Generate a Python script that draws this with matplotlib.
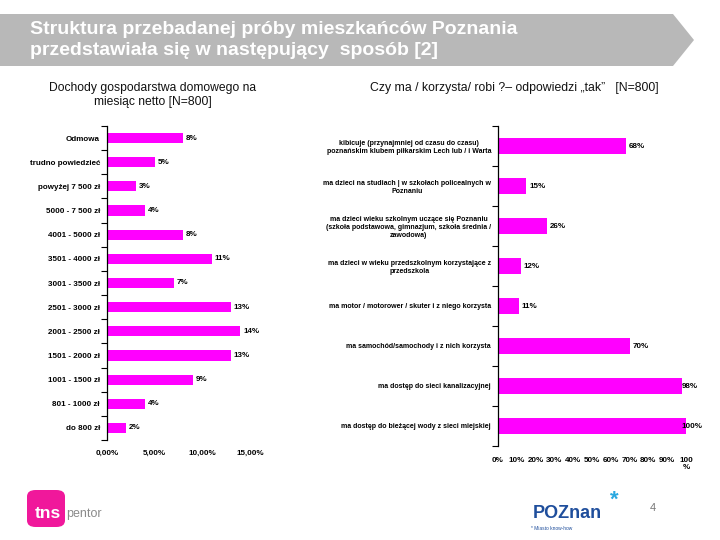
import matplotlib
matplotlib.use("Agg")
import matplotlib.pyplot as plt
from matplotlib.patches import Polygon, FancyBboxPatch

plt.rcParams['font.family'] = ['Liberation Sans', 'DejaVu Sans']

# ---- data ----
income_labels = ["Odmowa", "trudno powiedzieć", "powyżej 7 500 zł", "5000 - 7 500 zł",
                 "4001 - 5000 zł", "3501 - 4000 zł", "3001 - 3500 zł", "2501 - 3000 zł",
                 "2001 - 2500 zł", "1501 - 2000 zł", "1001 - 1500 zł", "801 - 1000 zł",
                 "do 800 zł"]
income_values = [8, 5, 3, 4, 8, 11, 7, 13, 14, 13, 9, 4, 2]
income_xticks = [0, 5, 10, 15]
income_xticklabels = ["0,00%", "5,00%", "10,00%", "15,00%"]

yes_labels = ["kibicuje (przynajmniej od czasu do czasu)\npoznańskim klubem piłkarskim Lech lub / i Warta",
              "ma dzieci na studiach | w szkołach policealnych w\nPoznaniu",
              "ma dzieci wieku szkolnym uczące się Poznaniu\n(szkoła podstawowa, gimnazjum, szkoła średnia /\nzawodowa)",
              "ma dzieci w wieku przedszkolnym korzystające z\nprzedszkola",
              "ma motor / motorower / skuter i z niego korzysta",
              "ma samochód/samochody i z nich korzysta",
              "ma dostęp do sieci kanalizacyjnej",
              "ma dostęp do bieżącej wody z sieci miejskiej"]
yes_values = [68, 15, 26, 12, 11, 70, 98, 100]
yes_xticks = list(range(0, 101, 10))
yes_xticklabels = ["0%", "10%", "20%", "30%", "40%", "50%", "60%", "70%", "80%", "90%", "100\n%"]

title = "Struktura przebadanej próby mieszkańców Poznania\nprzedstawiała się w następujący  sposób [2]"
sub_left = "Dochody gospodarstwa domowego na\nmiesiąc netto [N=800]"
sub_right = "Czy ma / korzysta/ robi ?– odpowiedzi „tak”   [N=800]"

MAG = "#ff00ff"
W, H = 720, 540
fig = plt.figure(figsize=(7.2, 5.4), dpi=100)

def fx(x): return x / W
def fy(y): return 1 - y / H

# banner
banner = Polygon([(fx(0), fy(14)), (fx(673), fy(14)), (fx(694), fy(40)),
                  (fx(673), fy(66)), (fx(0), fy(66))], closed=True,
                 transform=fig.transFigure, facecolor="#b8b8b8", edgecolor="none")
fig.patches.append(banner)
fig.text(fx(30), fy(40), title, color="white", fontsize=14, fontweight="bold",
         ha="left", va="center", linespacing=1.25)

fig.text(fx(153), fy(95), sub_left, fontsize=8.7, ha="center", va="center",
         linespacing=1.3, color="#111111")
fig.text(fx(370), fy(88), sub_right, fontsize=8.8, ha="left", va="center", color="#111111")

# left chart
axL = fig.add_axes([fx(107), fy(440), (250 - 107) / W, (440 - 126) / H])
n = len(income_values)
pos = list(range(n))
axL.barh(pos, income_values, height=0.42, color=MAG)
axL.set_ylim(n - 0.5, -0.5)
axL.set_xlim(0, 15)
axL.set_yticks([p - 0.5 for p in pos] + [n - 0.5])
axL.set_yticklabels([])
axL.set_yticks(pos, minor=True)
axL.set_yticklabels(income_labels, minor=True, fontsize=5.8, fontweight="bold")
axL.tick_params(axis="y", which="minor", length=0, pad=5)
axL.tick_params(axis="y", which="major", length=4, width=0.8)
axL.set_xticks(income_xticks)
axL.set_xticklabels(income_xticklabels, fontsize=5.8, fontweight="bold")
axL.tick_params(axis="x", length=0, pad=7)
for s in ["top", "right", "bottom"]:
    axL.spines[s].set_visible(False)
axL.spines["left"].set_linewidth(0.9)
for p, v in zip(pos, income_values):
    axL.text(v + 0.3, p, f"{v}%", fontsize=5.8, fontweight="bold", va="center", ha="left")

# right chart
axR = fig.add_axes([fx(498), fy(446), (686 - 498) / W, (446 - 126) / H])
m = len(yes_values)
posR = list(range(m))
axR.barh(posR, yes_values, height=0.4, color=MAG)
axR.set_ylim(m - 0.5, -0.5)
axR.set_xlim(0, 100)
axR.set_yticks([p - 0.5 for p in posR] + [m - 0.5])
axR.set_yticklabels([])
axR.set_yticks(posR, minor=True)
axR.set_yticklabels(yes_labels, minor=True, fontsize=5.0, fontweight="bold",
                    multialignment="center")
axR.tick_params(axis="y", which="minor", length=0, pad=5)
axR.tick_params(axis="y", which="major", length=4, width=0.8)
axR.set_xticks(yes_xticks)
axR.set_xticklabels(yes_xticklabels, fontsize=5.8, fontweight="bold", va="top",
                    linespacing=1.0)
axR.tick_params(axis="x", length=0, pad=8)
for s in ["top", "right", "bottom"]:
    axR.spines[s].set_visible(False)
axR.spines["left"].set_linewidth(0.9)
for p, v in zip(posR, yes_values):
    axR.text(min(v + 1.5, 97.5), p, f"{v}%", fontsize=5.8, fontweight="bold",
             va="center", ha="left")

# footer logos
logo = FancyBboxPatch((fx(27), fy(527)), fx(38), (527 - 490) / H,
                      boxstyle="round,pad=0,rounding_size=0.012",
                      transform=fig.transFigure, facecolor="#f0189b", edgecolor="none")
fig.patches.append(logo)
fig.text(fx(35), fy(513), "tns", color="white", fontsize=12.5, fontweight="bold",
         ha="left", va="center")
fig.text(fx(66), fy(514), "pentor", color="#8a8a8a", fontsize=9, ha="left", va="center")

fig.text(fx(533), fy(514), "POZnan", color="#1f4e9c", fontsize=13, fontweight="bold",
         ha="left", va="center")
fig.text(fx(614), fy(500), "*", color="#29a8e0", fontsize=16, fontweight="bold",
         ha="center", va="center")
fig.text(fx(531), fy(528), "* Miasto know-how", color="#1f4e9c", fontsize=3.5,
         ha="left", va="center")
fig.text(fx(653), fy(508), "4", color="#777777", fontsize=8, ha="center", va="center")

fig.savefig("out.png", dpi=100)
